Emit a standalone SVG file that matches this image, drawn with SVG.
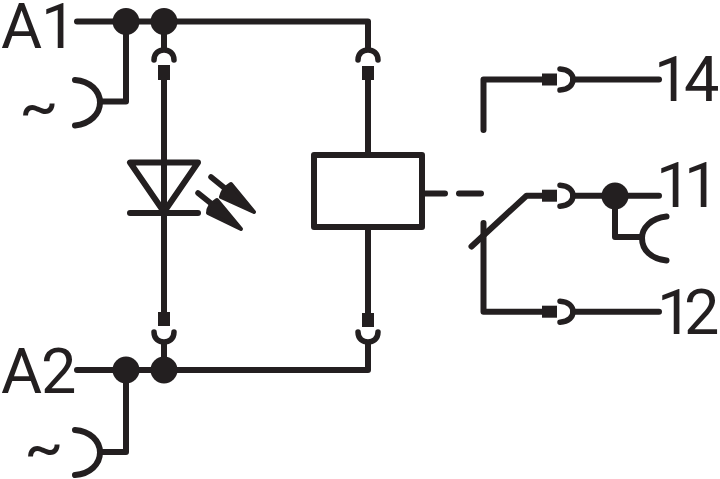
<svg xmlns="http://www.w3.org/2000/svg" width="720" height="479" viewBox="0 0 720 479">
<style>
.w{fill:none;stroke:#231f20;stroke-width:6;stroke-linecap:round;stroke-linejoin:round}
.s{fill:none;stroke:#231f20;stroke-width:5.500;stroke-linecap:round}
.d{fill:#231f20;stroke:none}
.a{fill:#231f20;stroke:#231f20;stroke-width:4;stroke-linejoin:round}
.t{font-family:"Roboto","Liberation Sans",sans-serif;font-size:63px;fill:#231f20}
.g{font-family:"Lato","Liberation Sans",sans-serif;font-size:68px;fill:#231f20}
</style>
<defs>
<path id="sockR" class="s" d="M560 -10.500 C569 -10 573 -5 573 0 C573 5 569 10 560 10.500"/>
<path id="sockD" class="s" d="M-10 10 C-10 3 -5 0 0 0 C5 0 10 3 10 10"/>
<rect id="pinH" class="d" x="0" y="-6" width="15" height="12"/>
</defs>
<g id="connectors">
<path class="w" d="M77 21.500H368V48"/>
<path class="w" d="M164 21.500V49"/>
<path class="w" d="M164 78V315"/>
<path class="w" d="M126 21.500V101.500H100"/>
<path class="w" d="M77 370H368V343"/>
<path class="w" d="M164 343V370"/>
<path class="w" d="M126 370V452H100"/>
<path class="w" d="M368 78V155"/>
<path class="w" d="M368 227V315"/>
<path class="w" d="M424 193.500H445M459 193.500H481"/>
<path class="w" d="M483.500 130V79.500H545"/>
<path class="w" d="M573 79.500H659"/>
<path class="w" d="M471.500 246.500L526.500 195.700H545"/>
<path class="w" d="M573 195.700H659"/>
<path class="w" d="M483.500 223V311.700H545"/>
<path class="w" d="M573 311.700H659"/>
<path class="w" d="M615 196V237H642"/>
</g>
<g id="socket-a1-in"><path class="w" d="M75 80C90 81 100 91 100 102.500C100 114 90 124 75 125.500"/></g>
<g id="socket-a2-in"><path class="w" d="M75 430C90 431 100 441 100 452.500C100 464 90 474 75 475"/></g>
<g id="socket-11-out"><path class="w" d="M666.500 216.500C651 218 642 228 642 238C642 250 651 259 666.500 260.500"/></g>
<g id="junction-a1"><circle class="d" cx="126" cy="21.500" r="13.500"/></g>
<g id="junction-a1-led"><circle class="d" cx="164" cy="21.500" r="13.500"/></g>
<g id="junction-a2"><circle class="d" cx="126" cy="370" r="13.500"/></g>
<g id="junction-a2-led"><circle class="d" cx="164" cy="370" r="13.500"/></g>
<g id="junction-11"><circle class="d" cx="615" cy="196" r="13.500"/></g>
<g id="plug-led-top">
<use href="#sockD" x="164" y="50"/><rect class="d" x="158" y="65" width="12" height="15"/>
</g>
<g id="plug-led-bottom">
<use href="#sockD" transform="translate(164 342) scale(1 -1)"/><rect class="d" x="158" y="312" width="12" height="14"/>
</g>
<g id="plug-coil-top">
<use href="#sockD" x="368" y="50"/><rect class="d" x="362" y="66" width="12" height="14"/>
</g>
<g id="plug-coil-bottom">
<use href="#sockD" transform="translate(368 342) scale(1 -1)"/><rect class="d" x="362" y="313" width="12" height="14"/>
</g>
<g id="plug-14">
<use href="#pinH" x="542" y="79.500"/><use href="#sockR" y="79.500"/>
</g>
<g id="plug-11">
<use href="#pinH" x="542" y="195.700"/><use href="#sockR" y="195.700"/>
</g>
<g id="plug-12">
<use href="#pinH" x="542" y="311.700"/><use href="#sockR" y="311.700"/>
</g>
<g id="led">
<path class="w" d="M130 162.500H198L164 212Z"/>
<path class="w" d="M130 213H198"/>
<path class="s" d="M211 177L227 190"/>
<path class="a" d="M231 184C226 187 222 192 221 197L254 212Z"/>
<path class="s" d="M198 193L213 205"/>
<path class="a" d="M217 200C212 203 208 208 208 213L241 229Z"/>
</g>
<g id="coil"><rect class="w" x="314" y="155" width="108" height="72"/></g>
<g id="labels">
<text class="t" x="1 41" y="48">A1</text>
<text class="t" x="1 41" y="393">A2</text>
<text class="g" x="19" y="130">~</text>
<text class="g" x="24" y="471">~</text>
<text class="t" x="654 684" y="101">14</text>
<text class="t" x="656 684" y="207">11</text>
<text class="t" x="657 684" y="334">12</text>
</g>
</svg>
